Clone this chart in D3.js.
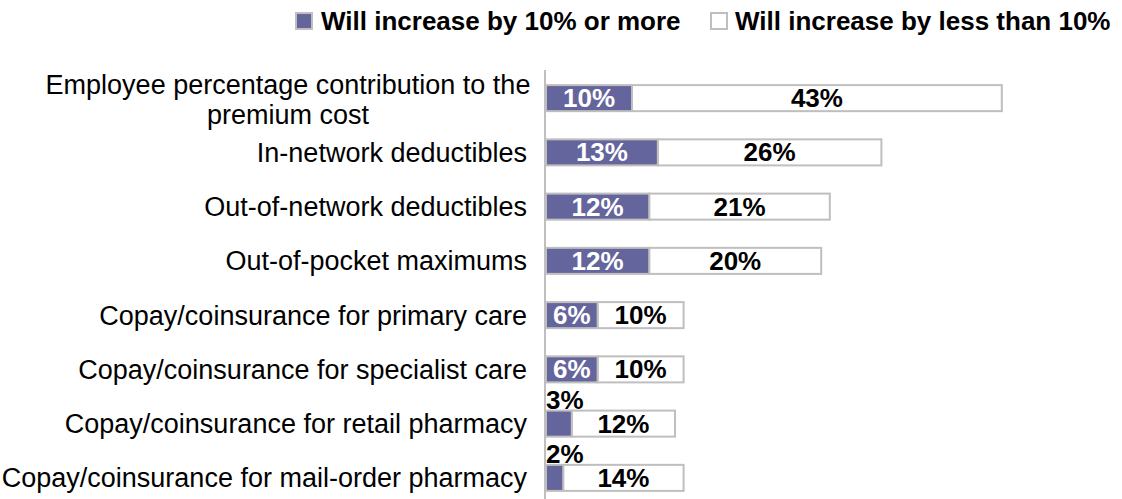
<!DOCTYPE html>
<html>
<head>
<meta charset="utf-8">
<script src="https://cdn.jsdelivr.net/npm/d3@7"></script>
<style>
  html, body { margin: 0; padding: 0; background: #fff; }
  svg { display: block; font-family: "Liberation Sans", Arial, sans-serif; }
</style>
</head>
<body>
<svg id="chart" width="1122" height="499"></svg>
<script>
// Expected changes in cost-sharing items
const categories = [
  "Employee percentage contribution to the premium cost",
  "In-network deductibles",
  "Out-of-network deductibles",
  "Out-of-pocket maximums",
  "Copay/coinsurance for primary care",
  "Copay/coinsurance for specialist care",
  "Copay/coinsurance for retail pharmacy",
  "Copay/coinsurance for mail-order pharmacy"
];
const increase10OrMore = [10, 13, 12, 12, 6, 6, 3, 2];
const increaseLessThan10 = [43, 26, 21, 20, 10, 10, 12, 14];
const seriesNames = ["Will increase by 10% or more", "Will increase by less than 10%"];
const categoryLines = [
  ["Employee percentage contribution to the", "premium cost"],
  ["In-network deductibles"],
  ["Out-of-network deductibles"],
  ["Out-of-pocket maximums"],
  ["Copay/coinsurance for primary care"],
  ["Copay/coinsurance for specialist care"],
  ["Copay/coinsurance for retail pharmacy"],
  ["Copay/coinsurance for mail-order pharmacy"]
];

const purple = "#65659d";
const border = "#bfbfbf";
const catSize = 27, valSize = 26, legSize = 26;

const svg = d3.select("#chart");

const x = d3.scaleLinear().domain([0, 60]).range([546, 1062]);
const y = d3.scaleBand().domain(categories).range([71, 505])
  .paddingInner(0.52).paddingOuter(0.26);

const rows = categories.map((c, i) => ({
  cat: c, lines: categoryLines[i],
  a: increase10OrMore[i], b: increaseLessThan10[i]
}));

// bars: first segment purple, second white
const g = svg.append("g");
rows.forEach(r => {
  const y0 = y(r.cat), h = y.bandwidth();
  g.append("rect")
    .attr("x", x(r.a)).attr("y", y0)
    .attr("width", x(r.a + r.b) - x(r.a)).attr("height", h)
    .attr("fill", "#fff").attr("stroke", border).attr("stroke-width", 2);
  g.append("rect")
    .attr("x", x(0)).attr("y", y0)
    .attr("width", x(r.a) - x(0)).attr("height", h)
    .attr("fill", purple).attr("stroke", border).attr("stroke-width", 2);
});

// value axis line on the left edge of the bars
svg.append("line")
  .attr("x1", 545).attr("x2", 545)
  .attr("y1", 70).attr("y2", 499)
  .attr("stroke", border).attr("stroke-width", 2);

// value labels
rows.forEach(r => {
  const y0 = y(r.cat), h = y.bandwidth(), cy = y0 + h / 2;
  if (r.a >= 5) {
    svg.append("text")
      .attr("x", (x(0) + x(r.a)) / 2).attr("y", cy + 9)
      .attr("text-anchor", "middle")
      .attr("font-size", valSize).attr("font-weight", "bold").attr("fill", "#fff")
      .text(r.a + "%");
  } else {
    svg.append("text")
      .attr("x", x(0)).attr("y", y0 - 2)
      .attr("font-size", valSize).attr("font-weight", "bold").attr("fill", "#000")
      .text(r.a + "%");
  }
  svg.append("text")
    .attr("x", (x(r.a) + x(r.a + r.b)) / 2).attr("y", cy + 9)
    .attr("text-anchor", "middle")
    .attr("font-size", valSize).attr("font-weight", "bold").attr("fill", "#000")
    .text(r.b + "%");
});

// category labels
rows.forEach(r => {
  const cy = y(r.cat) + y.bandwidth() / 2;
  if (r.lines.length > 1) {
    const t = svg.append("text")
      .attr("text-anchor", "middle")
      .attr("font-size", catSize).attr("fill", "#000");
    r.lines.forEach((ln, k) => {
      t.append("tspan").attr("x", 288).attr("y", cy - 4 + k * 30).text(ln);
    });
  } else {
    svg.append("text")
      .attr("x", 527).attr("y", cy + 9.5)
      .attr("text-anchor", "end")
      .attr("font-size", catSize).attr("fill", "#000")
      .text(r.lines[0]);
  }
});

// legend
const legend = [
  { name: seriesNames[0], fill: purple, sx: 296, tx: 321 },
  { name: seriesNames[1], fill: "#fff", sx: 711, tx: 735 }
];
legend.forEach(l => {
  svg.append("rect")
    .attr("x", l.sx).attr("y", 13).attr("width", 16).attr("height", 16)
    .attr("fill", l.fill).attr("stroke", border).attr("stroke-width", 2);
  svg.append("text")
    .attr("x", l.tx).attr("y", 30)
    .attr("font-size", legSize).attr("font-weight", "bold").attr("fill", "#000")
    .text(l.name);
});
</script>
</body>
</html>
